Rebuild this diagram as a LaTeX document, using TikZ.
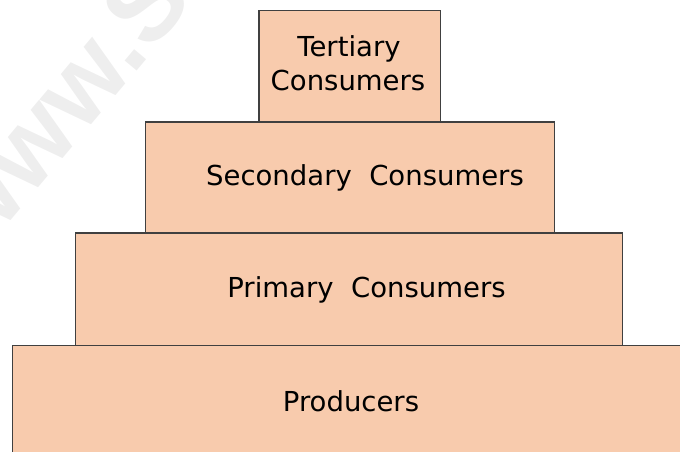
\documentclass[tikz,border=0pt]{standalone}
\usepackage{fontspec}
\setmainfont{DejaVu Sans}
\newfontfamily\wmfont{Liberation Sans}
\definecolor{tierfill}{HTML}{F8CBAD}
\definecolor{tierline}{HTML}{404040}
\definecolor{wmark}{HTML}{EEEEEE}
\begin{document}
\begin{tikzpicture}[x=1pt,y=-1pt,
  tier/.style={fill=tierfill,draw=tierline,line width=1.2pt},
  label/.style={anchor=base,inner sep=0pt,font=\fontsize{27.5}{34}\selectfont,text=black}]
\useasboundingbox (0,0) rectangle (680,452);
\clip (0,0) rectangle (680,452);
\node[anchor=base west,rotate=50,inner sep=0pt,text=wmark,font=\wmfont\bfseries\fontsize{105}{105}\selectfont] (wm) at (-23,261) {www.S};
\draw[tier] (12.5,345.5) rectangle (700,470);
\draw[tier] (75.5,233) rectangle (622.5,345.5);
\draw[tier] (145.5,122) rectangle (554.5,233);
\draw[tier] (259,10.5) rectangle (440.5,122);
\node[label] (t1) at (349,56.7) {Tertiary};
\node[label] (t2) at (348,90.7) {Consumers};
\node[label] (s) at (365,185) {Secondary\ \ Consumers};
\node[label] (p) at (366.5,297.3) {Primary\ \ Consumers};
\node[label] (r) at (351,411.7) {Producers};
\end{tikzpicture}
\end{document}
